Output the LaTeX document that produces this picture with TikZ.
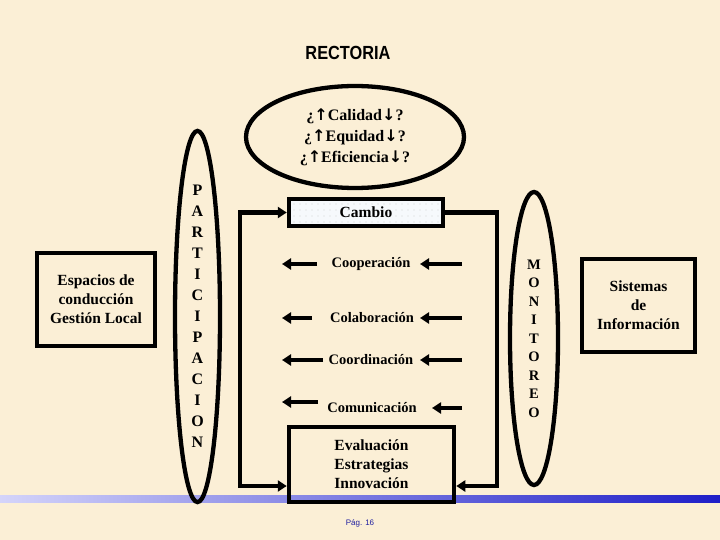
\documentclass[tikz,border=0pt]{standalone}
\usepackage{fontspec}
\setmainfont{Liberation Serif}
\newfontfamily\sansf{Liberation Sans}
\newfontfamily\arrf{DejaVu Sans}
\usetikzlibrary{arrows.meta,shapes.geometric,patterns.meta}
\definecolor{bg}{RGB}{251,239,214}
\definecolor{bandL}{RGB}{212,212,250}
\definecolor{bandM}{RGB}{150,150,238}
\definecolor{bandR}{RGB}{30,30,200}
\definecolor{pagecol}{RGB}{30,30,160}
\definecolor{dotfill}{RGB}{246,249,252}
\newcommand{\upa}{{\arrf\bfseries ↑}}
\newcommand{\dna}{{\arrf\bfseries ↓}}
\begin{document}
\begin{tikzpicture}[x=1pt,y=-1pt,
  box/.style={draw=black, line width=4.5pt, rectangle, inner sep=0pt, align=center},
  oval/.style={draw=black, line width=4.3pt, ellipse, inner sep=0pt, align=center},
  txt/.style={font=\bfseries\fontsize{14.5}{17}\selectfont},
  big/.style={font=\bfseries\fontsize{15.5}{19}\selectfont},
  conn/.style={line width=4.3pt, line join=miter, -{Triangle[length=9pt,width=11pt]}},
  conn2/.style={line width=4.3pt, line join=miter, {Triangle[length=9pt,width=11pt]}-{Triangle[length=9pt,width=11pt]}},
  small/.style={line width=4.3pt, -{Triangle[length=9pt,width=11pt]}}]
\useasboundingbox (0,0) rectangle (720,540);
\fill[bg] (0,0) rectangle (720,540);
\shade[left color=bandL, middle color=bandM, right color=bandR] (0,495) rectangle (720,502);

% title
\node[font=\sansf\bfseries\fontsize{19}{22}\selectfont, xscale=0.86] (rect) at (348,53) {RECTORIA};

% top ellipse
\node[oval, minimum width=218, minimum height=102, font=\bfseries\fontsize{16}{21}\selectfont] (calidad) at (355,137)
  {¿\upa Calidad\dna?\\¿\upa Equidad\dna?\\¿\upa Eficiencia\dna?};

% boxes
\node[box, minimum width=154, minimum height=27, preaction={fill=dotfill},
      pattern={Dots[distance=6pt,radius=0.45pt]}, pattern color=black!45] (cambio) at (366,212.5) {};
\node[font=\bfseries\fontsize{15.5}{18}\selectfont] (cambiotxt) at (366,212.5) {Cambio};
\node[box, big, minimum width=165, minimum height=75, align=left] (eval) at (371.5,464.5)
  {Evaluación\\Estrategias\\Innovación};
\node[box, big, minimum width=118, minimum height=93] (espacios) at (96,299.5)
  {Espacios de\\conducción\\Gestión Local};
\node[box, big, minimum width=113, minimum height=93] (sistemas) at (638.5,305.5)
  {Sistemas\\de\\Información};

% side ellipses
\node[oval, minimum width=45, minimum height=283, font=\bfseries\fontsize{16}{21}\selectfont] (partic) at (197.5,316.5)
  {P\\A\\R\\T\\I\\C\\I\\P\\A\\C\\I\\O\\N};
\node[oval, minimum width=48, minimum height=293, font=\bfseries\fontsize{14.5}{18.5}\selectfont] (monit) at (534,338.5)
  {M\\O\\N\\I\\T\\O\\R\\E\\O};

% feedback loop
\coordinate (lt) at (240,212.5);
\coordinate (lb) at (240,486);
\coordinate (rt) at (497,212.5);
\coordinate (rb) at (497,486);
\draw[conn2] (cambio.west) -- (lt) -- (lb) -- (eval.west |- lb);
\draw[conn] (cambio.east) -- (rt) -- (rb) -- (eval.east |- rb);

% middle labels
\node[txt] (coop) at (371,264) {Cooperación};
\node[txt] (colab) at (372,318) {Colaboración};
\node[txt] (coord) at (371,360) {Coordinación};
\node[txt] (comun) at (372,408) {Comunicación};

% middle arrows
\coordinate (a1s) at (317,264); \coordinate (a1e) at (282,264);
\coordinate (b1s) at (462,264); \coordinate (b1e) at (420,264);
\coordinate (a2s) at (312,318); \coordinate (a2e) at (282,318);
\coordinate (b2s) at (462,318); \coordinate (b2e) at (420,318);
\coordinate (a3s) at (323,360); \coordinate (a3e) at (282,360);
\coordinate (b3s) at (462,360); \coordinate (b3e) at (420,360);
\coordinate (a4s) at (318,402); \coordinate (a4e) at (282,402);
\coordinate (b4s) at (462,408); \coordinate (b4e) at (432,408);
\foreach \p in {a1,b1,a2,b2,a3,b3,a4,b4}{\draw[small] (\p s) -- (\p e);}

% page number
\node[font=\sansf\fontsize{8}{10}\selectfont, text=pagecol] (pag) at (360,523) {Pág. 16};
\end{tikzpicture}
\end{document}
